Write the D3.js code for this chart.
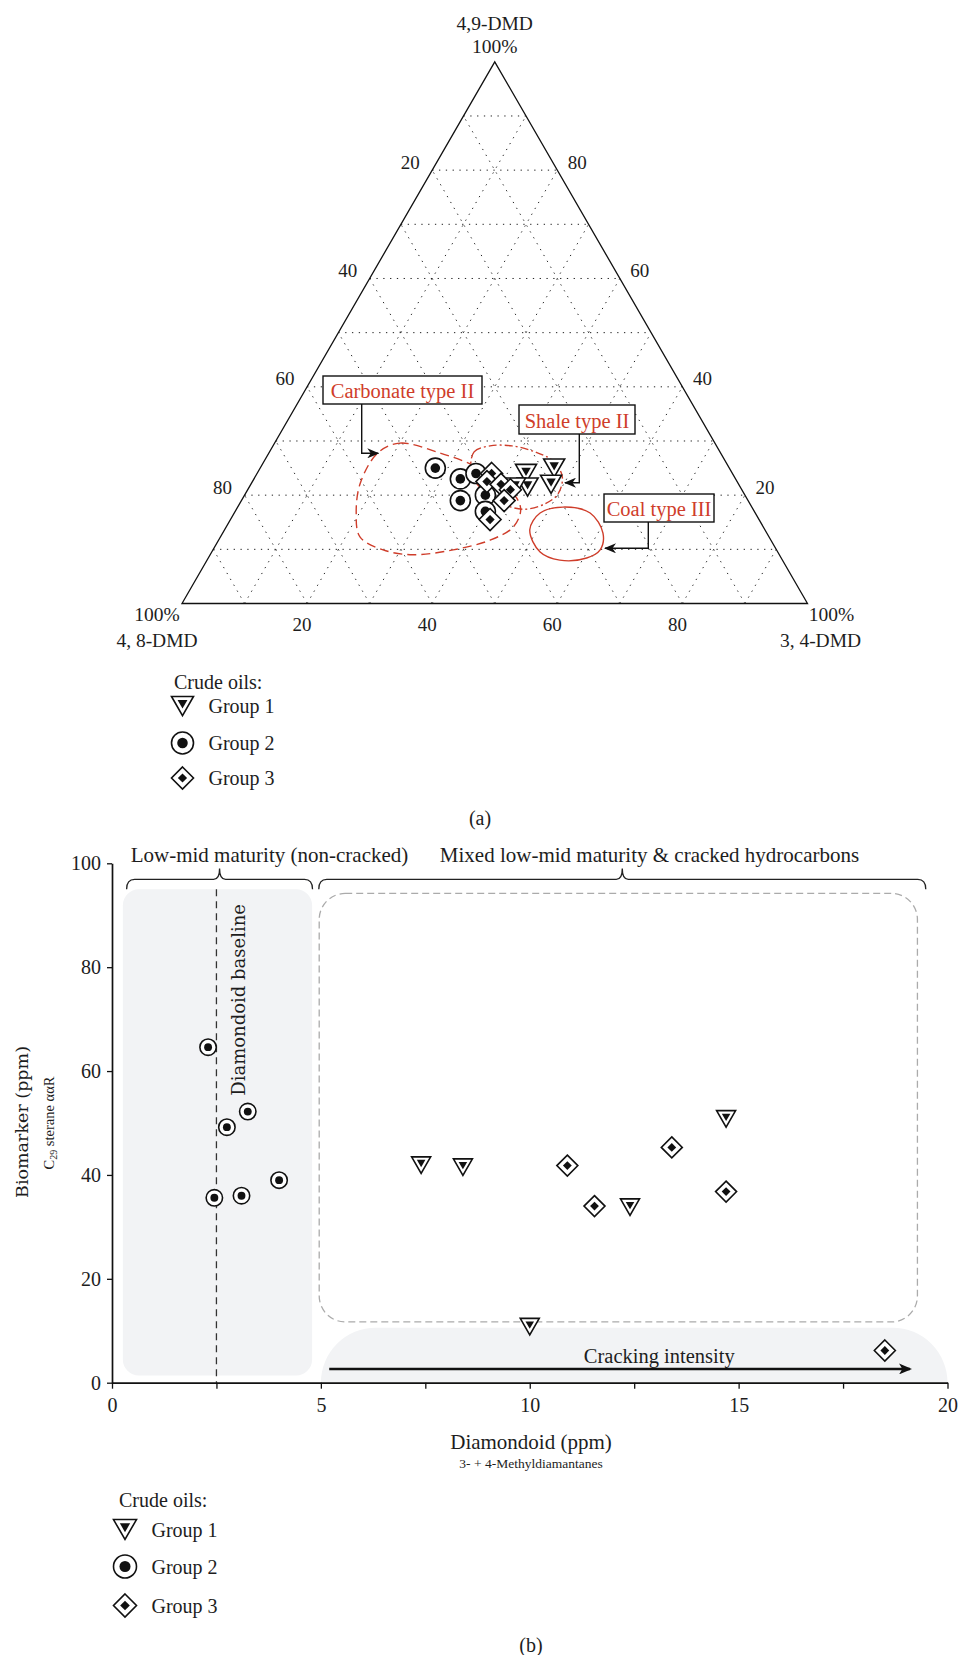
<!DOCTYPE html>
<html>
<head>
<meta charset="utf-8">
<script src="https://cdn.jsdelivr.net/npm/d3@7"></script>
<style>
body { margin: 0; background: #fff; }
svg text { font-family: "Liberation Serif", "Times New Roman", serif; fill: #1d1d1d; }
</style>
</head>
<body>
<div id="chart"></div>
<script>
(function() {

const w = 961;
const h = 1655;

// ---------- (a) ternary data, values in % : [4,9-DMD, 4,8-DMD, 3,4-DMD]
const ternaryTicks = [20, 40, 60, 80];
const group1Ternary = [[24, 33, 43], [25, 28, 47], [21.5, 34, 44.5], [22, 30, 48], [21.5, 36, 42.5]];
const group2Ternary = [[25, 47, 28], [23, 44, 33], [24, 41, 35], [19, 46, 35], [20, 41.5, 38.5], [17, 43, 40]];
const group3Ternary = [[24, 38.5, 37.5], [22.5, 40, 37.5], [22, 38, 40], [21, 37, 42], [19, 39, 42], [15.5, 43, 41.5]];

// source rock fields, outline as [4,9-DMD, 3,4-DMD]
const carbonateField = [[27.8, 17.4], [29.6, 20.0], [27.8, 27.3], [25.6, 33.6], [23.2, 38.4], [20.0, 43.2],
    [17.3, 45.5], [14.1, 45.9], [11.7, 43.4], [9.9, 38.4], [9.0, 32.4], [9.9, 27.2], [12.3, 22.3], [16.7, 19.5], [22.2, 17.4]];
const shaleField = [[24.6, 33.9], [28.0, 32.7], [29.1, 34.7], [29.1, 38.2], [28.0, 42.4], [26.3, 46.2], [23.4, 49.1],
    [20.2, 50.0], [18.4, 48.8], [17.4, 46.1], [18.2, 42.5], [20.0, 39.2], [22.1, 36.1]];
const coalField = [[13.6, 48.8], [16.7, 48.9], [17.8, 52.0], [16.7, 56.9], [13.0, 60.8], [9.9, 61.9], [8.4, 60.5], [8.0, 56.4], [9.5, 52.5]];

// ---------- (b) scatter data: [diamondoid ppm, biomarker ppm]
const xTicks = [0, 5, 10, 15, 20];
const xMinorTicks = [2.5, 7.5, 12.5, 17.5];
const yTicks = [0, 20, 40, 60, 80, 100];
const group1Scatter = [[7.4, 41.9], [8.4, 41.5], [12.4, 33.8], [14.7, 50.8], [10.0, 10.8]];
const group2Scatter = [[2.3, 64.6], [3.25, 52.2], [2.75, 49.2], [4.0, 39.0], [2.45, 35.6], [3.1, 36.0]];
const group3Scatter = [[10.9, 41.8], [11.55, 34.0], [13.4, 45.3], [14.7, 36.8], [18.5, 6.2]];
const baselineValue = 2.5;

const groupNames = ["Group 1", "Group 2", "Group 3"];
const red = "#cf3d2a";

const svg = d3.select("#chart")
    .append("svg")
    .attr("width", w)
    .attr("height", h)
    .attr("viewBox", `0 0 ${w} ${h}`);

const defs = svg.append("defs");
defs.append("marker")
    .attr("id", "arrowA")
    .attr("viewBox", "0 0 12 10")
    .attr("refX", 11).attr("refY", 5)
    .attr("markerWidth", 12).attr("markerHeight", 10)
    .attr("markerUnits", "userSpaceOnUse")
    .attr("orient", "auto")
    .append("path")
    .attr("d", "M0,0L12,5L0,10L3.5,5Z")
    .attr("fill", "#111");
defs.append("marker")
    .attr("id", "arrowB")
    .attr("viewBox", "0 0 12 10")
    .attr("refX", 10).attr("refY", 5)
    .attr("markerWidth", 13).attr("markerHeight", 11)
    .attr("markerUnits", "userSpaceOnUse")
    .attr("orient", "auto")
    .append("path")
    .attr("d", "M0,0L12,5L0,10L3,5Z")
    .attr("fill", "#111");

// symbol painter
function drawSymbol(g, type, size) {
    if (type == 0) {
        const s = size, hh = size * 0.866, k = 0.45;
        g.append("path")
            .attr("d", `M${-s},${-hh}L${s},${-hh}L0,${hh}Z`)
            .attr("fill", "#fff").attr("stroke", "#111").attr("stroke-width", 1.6);
        const c = -hh / 3;
        g.append("path")
            .attr("d", `M${-s*k},${c - k*2*hh/3}L${s*k},${c - k*2*hh/3}L0,${c + k*4*hh/3}Z`)
            .attr("fill", "#111");
    } else if (type == 1) {
        g.append("circle").attr("r", size)
            .attr("fill", "#fff").attr("stroke", "#111").attr("stroke-width", 1.6);
        g.append("circle").attr("r", size * 0.48).attr("fill", "#111");
    } else {
        const d = size, k = 0.42;
        g.append("path")
            .attr("d", `M0,${-d}L${d},0L0,${d}L${-d},0Z`)
            .attr("fill", "#fff").attr("stroke", "#111").attr("stroke-width", 1.6);
        g.append("path")
            .attr("d", `M0,${-d*k}L${d*k},0L0,${d*k}L${-d*k},0Z`)
            .attr("fill", "#111");
    }
}

function legend(x0, y0, symX, textX, rowGap, symSize) {
    const lg = svg.append("g");
    lg.append("text")
        .attr("x", x0).attr("y", y0).attr("dy", "0.35em")
        .style("font-size", "20px")
        .text("Crude oils:");
    groupNames.forEach(function(name, i) {
        const yy = y0 + rowGap[i];
        drawSymbol(lg.append("g").attr("transform", `translate(${symX},${yy})`), i, symSize);
        lg.append("text")
            .attr("x", textX).attr("y", yy).attr("dy", "0.35em")
            .style("font-size", "20px")
            .text(name);
    });
}

// ================= (a) ternary =================
const triLeft = 182, triRight = 807.5, triBase = 603.5;
const triTop = triBase - (triRight - triLeft) * Math.sqrt(3) / 2;
const tx = d3.scaleLinear().domain([0, 100]).range([triLeft, triRight]);
const ty = d3.scaleLinear().domain([0, 100]).range([triBase, triTop]);
function proj(a, c) { return [tx(c + a / 2), ty(a)]; }

const tern = svg.append("g");

// dotted grid every 10 %
const gridVals = d3.range(10, 100, 10);
const gridLines = [];
gridVals.forEach(function(v) {
    gridLines.push([proj(v, 0), proj(v, 100 - v)]);
    gridLines.push([proj(0, v), proj(100 - v, v)]);
    gridLines.push([proj(0, 100 - v), proj(100 - v, 0)]);
});
tern.selectAll("line.grid")
    .data(gridLines)
    .enter()
    .append("line")
    .attr("class", "grid")
    .attr("x1", d => d[0][0]).attr("y1", d => d[0][1])
    .attr("x2", d => d[1][0]).attr("y2", d => d[1][1])
    .attr("stroke", "#222")
    .attr("stroke-width", 1)
    .attr("stroke-dasharray", "1.3,5.5");

// outline
tern.append("path")
    .attr("d", d3.line()([proj(0, 0), proj(0, 100), proj(100, 0)]) + "Z")
    .attr("fill", "none")
    .attr("stroke", "#111")
    .attr("stroke-width", 1.3);

// tick labels
ternaryTicks.forEach(function(t) {
    const pl = proj(100 - t, 0);
    tern.append("text").attr("x", pl[0] - 22).attr("y", pl[1] - 8).attr("dy", "0.35em")
        .attr("text-anchor", "middle").style("font-size", "19px").text(t);
    const pr = proj(t, 100 - t);
    tern.append("text").attr("x", pr[0] + 20).attr("y", pr[1] - 8).attr("dy", "0.35em")
        .attr("text-anchor", "middle").style("font-size", "19px").text(t);
    const pb = proj(0, t);
    tern.append("text").attr("x", pb[0] - 5).attr("y", pb[1] + 21).attr("dy", "0.35em")
        .attr("text-anchor", "middle").style("font-size", "19px").text(t);
});

// vertex labels
const apex = proj(100, 0);
tern.append("text").attr("x", apex[0]).attr("y", 23).attr("dy", "0.35em")
    .attr("text-anchor", "middle").style("font-size", "19.5px").text("4,9-DMD");
tern.append("text").attr("x", apex[0]).attr("y", 46.5).attr("dy", "0.35em")
    .attr("text-anchor", "middle").style("font-size", "19.5px").text("100%");
tern.append("text").attr("x", triLeft - 25).attr("y", 614).attr("dy", "0.35em")
    .attr("text-anchor", "middle").style("font-size", "19.5px").text("100%");
tern.append("text").attr("x", triLeft - 25).attr("y", 640).attr("dy", "0.35em")
    .attr("text-anchor", "middle").style("font-size", "19.5px").text("4, 8-DMD");
tern.append("text").attr("x", triRight + 24).attr("y", 614).attr("dy", "0.35em")
    .attr("text-anchor", "middle").style("font-size", "19.5px").text("100%");
tern.append("text").attr("x", triRight + 13).attr("y", 640).attr("dy", "0.35em")
    .attr("text-anchor", "middle").style("font-size", "19.5px").text("3, 4-DMD");

// source fields
const fieldLine = d3.line()
    .x(d => proj(d[0], d[1])[0])
    .y(d => proj(d[0], d[1])[1])
    .curve(d3.curveCatmullRomClosed.alpha(0.5));
tern.append("path").attr("d", fieldLine(carbonateField))
    .attr("fill", "none").attr("stroke", red).attr("stroke-width", 1.4)
    .attr("stroke-dasharray", "9,5");
tern.append("path").attr("d", fieldLine(shaleField))
    .attr("fill", "none").attr("stroke", red).attr("stroke-width", 1.4)
    .attr("stroke-dasharray", "8,3,2,3");
tern.append("path").attr("d", fieldLine(coalField))
    .attr("fill", "none").attr("stroke", red).attr("stroke-width", 1.4);

// annotation boxes + arrows
const notes = [
    { text: "Carbonate type II", box: [323, 376, 482, 404], path: [[361.7, 404], [361.7, 453.3], [378.3, 453.3]] },
    { text: "Shale type II", box: [519, 405, 635, 434], path: [[579.3, 434], [579.3, 482.7], [565, 482.7]] },
    { text: "Coal type III", box: [604, 494, 714, 522], path: [[648.3, 522], [648.3, 548.3], [605, 548.3]] }
];
notes.forEach(function(n) {
    tern.append("path")
        .attr("d", d3.line()(n.path))
        .attr("fill", "none").attr("stroke", "#111").attr("stroke-width", 1.4)
        .attr("marker-end", "url(#arrowA)");
    tern.append("rect")
        .attr("x", n.box[0]).attr("y", n.box[1])
        .attr("width", n.box[2] - n.box[0]).attr("height", n.box[3] - n.box[1])
        .attr("fill", "#fff").attr("stroke", "#111").attr("stroke-width", 1.4);
    tern.append("text")
        .attr("x", (n.box[0] + n.box[2]) / 2).attr("y", (n.box[1] + n.box[3]) / 2 + 1)
        .attr("dy", "0.35em").attr("text-anchor", "middle")
        .style("font-size", "20.5px").style("fill", red)
        .text(n.text);
});

// points (circles, then triangles, then diamonds on top)
[[group2Ternary, 1, 10], [group1Ternary, 0, 10.5], [group3Ternary, 2, 11]].forEach(function(s) {
    tern.selectAll(null)
        .data(s[0])
        .enter()
        .append("g")
        .attr("transform", function(d) {
            const p = proj(d[0], d[2]);
            return `translate(${p[0]},${p[1]})`;
        })
        .each(function() { drawSymbol(d3.select(this), s[1], s[2]); });
});

legend(174, 681.5, 182.5, 208.5, [24.5, 61.5, 96.5], 11);
svg.append("text").attr("x", 480).attr("y", 818).attr("dy", "0.35em")
    .attr("text-anchor", "middle").style("font-size", "20px").text("(a)");

// ================= (b) scatter =================
const x = d3.scaleLinear().domain([0, 20]).range([112, 947.5]);
const y = d3.scaleLinear().domain([0, 100]).range([1382.7, 863.3]);
const sc = svg.append("g");

// low-mid maturity zone
sc.append("rect")
    .attr("x", x(0.26)).attr("y", y(95))
    .attr("width", x(4.79) - x(0.26)).attr("height", y(1.4) - y(95))
    .attr("rx", 16).attr("fill", "#f2f3f5");

// mixed zone (dashed)
sc.append("rect")
    .attr("x", x(4.96)).attr("y", y(94.2))
    .attr("width", x(19.28) - x(4.96)).attr("height", y(11.7) - y(94.2))
    .attr("rx", 26).attr("fill", "none")
    .attr("stroke", "#ababab").attr("stroke-width", 1.3).attr("stroke-dasharray", "7,4");

// cracking zone
const cz0 = x(5), cz1 = x(20), czTop = y(10.6), czBot = y(0);
const czR = czBot - czTop;
sc.append("path")
    .attr("d", `M${cz0},${czBot}A${czR},${czR} 0 0 1 ${cz0 + czR},${czTop}L${cz1 - czR},${czTop}A${czR},${czR} 0 0 1 ${cz1},${czBot}Z`)
    .attr("fill", "#f2f3f5");

// diamondoid baseline
sc.append("line")
    .attr("x1", x(baselineValue)).attr("x2", x(baselineValue))
    .attr("y1", y(95)).attr("y2", y(0))
    .attr("stroke", "#333").attr("stroke-width", 1.3).attr("stroke-dasharray", "7,5");
sc.append("text")
    .attr("transform", `translate(${x(baselineValue) + 22},${y(73.7)}) rotate(-90)`)
    .attr("text-anchor", "middle").attr("dy", "0.35em")
    .style("font-family", "'DejaVu Serif', serif").style("font-size", "18px")
    .text("Diamondoid baseline");

// cracking intensity arrow
sc.append("line")
    .attr("x1", x(5.2)).attr("x2", x(19.1))
    .attr("y1", y(2.64)).attr("y2", y(2.64))
    .attr("stroke", "#111").attr("stroke-width", 2.6)
    .attr("marker-end", "url(#arrowB)");
sc.append("text")
    .attr("x", x(13.1)).attr("y", y(5.1)).attr("dy", "0.35em")
    .attr("text-anchor", "middle").style("font-size", "20.5px")
    .text("Cracking intensity");

// brackets
function bracket(xa, xb, label, labelX) {
    const x0 = x(xa), x1 = x(xb), xm = (x0 + x1) / 2;
    const yEnd = y(95), yBar = y(96.9), yPeak = y(99);
    sc.append("path")
        .attr("d", `M${x0},${yEnd}Q${x0},${yBar} ${x0 + 8},${yBar}L${xm - 6},${yBar}Q${xm},${yBar} ${xm},${yPeak}Q${xm},${yBar} ${xm + 6},${yBar}L${x1 - 8},${yBar}Q${x1},${yBar} ${x1},${yEnd}`)
        .attr("fill", "none").attr("stroke", "#222").attr("stroke-width", 1.3);
    sc.append("text")
        .attr("x", labelX).attr("y", 855).attr("dy", "0.35em")
        .attr("text-anchor", "middle").style("font-size", "21px")
        .text(label);
}
bracket(0.35, 4.8, "Low-mid maturity (non-cracked)", 269.5);
bracket(4.95, 19.48, "Mixed low-mid maturity & cracked hydrocarbons", 649.5);

// points
[[group2Scatter, 1, 8.2], [group1Scatter, 0, 9.5], [group3Scatter, 2, 10.5]].forEach(function(s) {
    sc.selectAll(null)
        .data(s[0])
        .enter()
        .append("g")
        .attr("transform", d => `translate(${x(d[0])},${y(d[1])})`)
        .each(function() { drawSymbol(d3.select(this), s[1], s[2]); });
});

// axes
const xAxis = d3.axisBottom(x)
    .tickValues(xTicks.concat(xMinorTicks))
    .tickFormat(d => xTicks.indexOf(d) >= 0 ? d : "")
    .tickSize(6).tickSizeOuter(0).tickPadding(9);
const gx = sc.append("g").attr("transform", `translate(0,${y(0)})`).call(xAxis);
const yAxis = d3.axisLeft(y)
    .tickValues(yTicks)
    .tickSize(5).tickSizeOuter(0).tickPadding(6);
const gy = sc.append("g").attr("transform", `translate(${x(0)},0)`).call(yAxis);
[gx, gy].forEach(function(g) {
    g.select(".domain").attr("stroke", "#111").attr("stroke-width", 1.7);
    g.selectAll(".tick line").attr("stroke", "#111").attr("stroke-width", 1.3);
    g.selectAll(".tick text")
        .style("font-family", "'Liberation Serif', serif")
        .style("font-size", "20px").style("fill", "#1d1d1d");
});

// axis titles
sc.append("text").attr("x", 531).attr("y", 1441.5).attr("dy", "0.35em")
    .attr("text-anchor", "middle").style("font-size", "21px").text("Diamondoid (ppm)");
sc.append("text").attr("x", 531).attr("y", 1463).attr("dy", "0.35em")
    .attr("text-anchor", "middle").style("font-size", "13.5px").text("3- + 4-Methyldiamantanes");

sc.append("text")
    .attr("transform", "translate(21.5,1122) rotate(-90)")
    .attr("text-anchor", "middle").attr("dy", "0.35em")
    .style("font-family", "'DejaVu Serif', serif").style("font-size", "17.5px")
    .text("Biomarker (ppm)");
const sub = sc.append("text")
    .attr("transform", "translate(49,1123) rotate(-90)")
    .attr("text-anchor", "middle").attr("dy", "0.35em")
    .style("font-size", "14.5px");
sub.append("tspan").text("C");
sub.append("tspan").attr("dy", 3).style("font-size", "10px").text("29");
sub.append("tspan").attr("dy", -3).text(" sterane ααR");

legend(119, 1499.5, 125, 151.5, [30, 67, 106], 11.5);
svg.append("text").attr("x", 531).attr("y", 1645).attr("dy", "0.35em")
    .attr("text-anchor", "middle").style("font-size", "20px").text("(b)");

})();
</script>
</body>
</html>
